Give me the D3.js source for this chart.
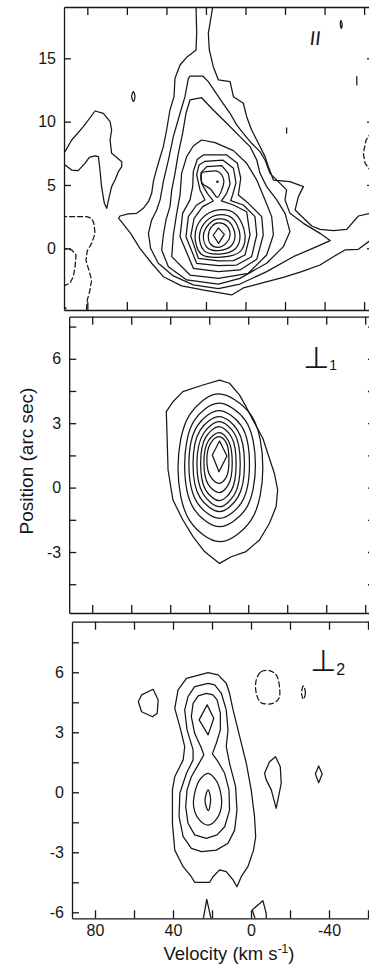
<!DOCTYPE html>
<html>
<head>
<meta charset="utf-8">
<script src="https://cdn.jsdelivr.net/npm/d3@7"></script>
<style>
  body { margin: 0; background: #fff; }
  svg { display: block; background: #fff; }
  .contour { fill: none; stroke: #161616; stroke-width: 1.25; stroke-linejoin: round; stroke-linecap: round; }
  .neg { stroke-dasharray: 5 3; }
  .axis path, .axis line { stroke: #161616; stroke-width: 1.3; }
  .axis text, .label { fill: #161616; font-family: "Liberation Sans", Arial, sans-serif; }
</style>
</head>
<body>
<div id="chart"></div>
<script>
// --- axis values ---
const velocityTicks = [80, 60, 40, 20, 0, -20, -40, -60];
const velocityLabels = [80, 40, 0, -40];
const parTicks = [0, 5, 10, 15];
const perp1Ticks = [-4.5, -3, -1.5, 0, 1.5, 3, 4.5, 6, 7.5];
const perp2Ticks = [-6, -4.5, -3, -1.5, 0, 1.5, 3, 4.5, 6, 7.5];
const perpLabels = [-6, -3, 0, 3, 6];

// --- parallel cut: contours as [velocity km/s, position arcsec] ---
const parL1 = [[25.0,19.9],[25.0,19.03],[24.7,16.97],[25.0,15.66],[29.75,15.08],[33.1,14.47],[35.65,13.42],[36.15,11.97],[38.2,10.92],[39.9,9.34],[41.55,8.03],[43.6,6.97],[45.3,6.05],[46.6,5.26],[47.45,4.34],[49.1,3.68],[51.7,3.16],[55.0,2.76],[59.3,2.71],[63.5,2.55],[64.15,2.37],[62.1,1.97],[58.1,1.18],[53.4,0.0],[47.45,-1.18],[41.55,-2.24],[32.3,-2.97],[19.6,-3.34],[7.0,-3.68],[1.1,-3.13],[-9.0,-2.71],[-19.15,-2.29],[-28.4,-1.84],[-37.7,-1.32],[-44.45,-0.66],[-50.35,-0.13],[-57.1,-0.08],[-63.0,0.61],[-66.4,0.61],[-66.4,2.76],[-63.0,2.76],[-57.1,2.55],[-51.2,1.5],[-44.45,1.39],[-37.7,1.5],[-33.5,1.76],[-25.1,3.03],[-26.75,4.08],[-29.3,4.87],[-22.5,5.26],[-14.1,5.39],[-11.6,6.45],[-9.9,7.24],[-6.5,8.29],[-3.1,9.34],[-0.6,10.39],[1.1,11.45],[6.1,11.97],[7.8,13.16],[13.7,13.29],[16.3,14.34],[18.3,15.66],[18.8,16.97],[16.6,19.03],[16.6,19.9]];
const parL2 = [[28.9,13.42],[28.06,13.6],[21.65,13.6],[18.8,13.16],[15.4,12.37],[12.0,11.58],[7.8,10.66],[4.45,9.74],[1.1,9.08],[-3.1,8.29],[-7.35,7.63],[-9.9,6.97],[-12.4,5.92],[-17.5,5.13],[-20.8,4.61],[-20.0,3.82],[-22.5,2.76],[-29.3,1.97],[-37.7,1.18],[-42.8,0.61],[-36.0,0.13],[-24.2,-0.66],[-10.7,-1.84],[2.8,-2.82],[13.7,-3.18],[26.4,-2.89],[36.5,-2.18],[44.1,-1.18],[48.0,0.0],[49.1,1.18],[47.45,2.24],[44.9,3.03],[43.2,3.82],[41.55,5.26],[39.0,6.97],[36.5,8.82],[33.1,10.66],[30.6,11.97]];
const parL3 = [[28.06,11.71],[22.2,11.89],[16.3,10.92],[9.5,9.87],[2.8,8.82],[-2.3,8.03],[-5.7,6.97],[-7.35,5.92],[-10.7,4.87],[-15.8,3.82],[-20.0,2.76],[-22.5,1.32],[-19.15,0.13],[-10.7,-1.18],[2.8,-2.37],[13.7,-2.82],[29.75,-2.5],[39.0,-1.45],[42.4,-0.13],[41.55,1.05],[40.2,2.24],[38.2,3.29],[37.3,4.61],[35.65,5.92],[33.96,7.5],[31.8,9.08],[30.1,10.66]];
const parL4 = [[22.2,8.55],[15.4,8.34],[6.1,7.71],[-0.6,6.71],[-5.7,5.39],[-9.9,3.82],[-13.25,2.5],[-14.1,1.05],[-10.7,-0.53],[-1.44,-1.97],[13.7,-2.37],[28.06,-2.11],[37.3,-0.66],[36.5,1.05],[34.8,2.76],[33.1,4.21],[32.3,5.92],[29.75,7.24],[26.4,8.08]];
const parL5 = [[21.3,7.37],[9.5,7.37],[4.1,6.71],[2.4,5.53],[3.6,4.21],[-1.44,3.55],[-8.2,2.5],[-9.0,1.05],[-5.7,-0.87],[2.8,-1.71],[13.7,-1.84],[26.4,-1.58],[33.1,0.92],[31.8,2.76],[28.06,3.82],[26.7,4.87],[26.4,6.05],[24.35,7.03]];
const parL6 = [[20.5,6.87],[11.5,6.97],[6.1,6.32],[4.8,5.18],[6.5,4.21],[7.5,3.76],[1.1,3.42],[-4.8,2.5],[-5.7,1.05],[-3.1,-0.66],[4.45,-1.32],[13.7,-1.37],[24.7,-1.18],[30.1,0.92],[28.9,2.5],[24.7,3.42],[20.5,3.82],[23.0,4.61],[24.7,5.79],[23.5,6.58]];
const parL7 = [[19.6,6.45],[12.0,6.53],[8.7,5.92],[7.8,5.08],[9.5,4.34],[12.2,3.74],[6.1,3.42],[-0.6,2.89],[-2.3,1.05],[0.24,-0.53],[6.1,-0.97],[13.7,-1.0],[23.85,-0.79],[27.7,0.97],[26.0,2.37],[21.65,3.29],[16.3,3.74],[19.3,4.34],[22.2,5.13],[22.5,5.97]];
const parL8up = [[22.2,5.92],[17.9,6.08],[13.7,6.05],[11.0,5.39],[11.9,4.66],[14.2,4.03],[17.6,4.66],[22.0,5.18]];
const parL8 = [[13.7,3.03],[5.1,2.71],[0.24,1.05],[2.8,-0.26],[13.7,-0.71],[22.5,-0.45],[25.5,0.97],[22.2,2.32]];
const parL9 = [[13.7,2.64],[6.65,2.37],[2.8,1.05],[5.1,-0.03],[13.7,-0.45],[21.0,-0.18],[23.3,0.97],[20.1,2.11]];
const parL10 = [[13.7,2.32],[8.2,2.08],[5.3,1.05],[7.3,0.18],[13.7,-0.18],[19.3,0.05],[21.3,0.97],[18.45,1.92]];
const parL11 = [[13.7,2.0],[9.5,1.76],[7.8,1.05],[9.5,0.45],[13.7,0.08],[17.6,0.32],[18.8,1.0],[17.1,1.71]];
const parL12 = [[13.7,1.61],[10.7,1.1],[13.6,0.39],[16.3,1.03]];
const parBlob = [[93.8,6.58],[93.8,7.76],[91.3,7.63],[87.9,8.55],[82.0,9.6],[76.1,10.84],[71.9,10.66],[68.5,10.0],[67.7,9.34],[68.5,8.55],[67.7,7.5],[66.0,7.29],[62.6,6.84],[62.6,6.45],[64.3,6.05],[66.0,5.39],[67.7,4.87],[68.9,4.08],[70.2,3.16],[71.4,3.55],[72.8,4.87],[73.6,6.18],[74.4,7.24],[76.1,7.29],[79.0,7.18],[81.2,6.71],[84.6,6.13],[87.9,6.18],[91.3,6.58]];
const parNeg1 = [[93.0,2.5],[80.3,2.5],[77.8,2.37],[76.6,1.92],[76.1,1.18],[77.8,0.39],[80.0,-0.18],[80.7,-0.92],[79.5,-1.58],[77.8,-2.5],[78.65,-3.29],[80.0,-4.08],[80.7,-5.2]];
const parNeg2 = [[93.0,0.0],[87.9,-0.13],[85.7,-0.53],[86.2,-1.45],[87.1,-2.24],[88.8,-2.76],[93.0,-3.03]];
const parNeg3 = [[92.5,-4.47],[89.8,-4.9]];
const parNeg4 = [[-63.8,9.21],[-61.0,8.55],[-59.6,7.5],[-60.5,6.71],[-63.0,6.18]];
const parSpeck1 = [[57.6,12.0],[56.7,12.37],[55.9,12.0],[56.7,11.58]];
const parSpeck2 = [[-20.8,9.5],[-20.8,9.1]];
const parSpeck3 = [[-56.3,13.55],[-56.3,12.9]];
const parSpeck4 = [[-48.3,17.97],[-48.9,17.67],[-48.5,17.37],[-48.0,17.67]];
const parPeakDot = [[14.2, 5.26]];

// --- perpendicular cut 1 ---
const p1R1 = [[14.7,5.01],[23.2,4.78],[33.5,4.47],[38.6,4.0],[42.0,3.54],[41.6,2.37],[41.1,0.82],[38.6,-0.58],[33.5,-1.51],[28.3,-2.28],[22.4,-2.98],[14.7,-3.53],[8.7,-3.22],[1.1,-2.98],[-5.8,-2.44],[-10.9,-1.66],[-14.3,-0.89],[-15.1,-0.11],[-13.4,0.67],[-10.0,1.6],[-7.5,2.3],[-2.4,3.15],[1.1,3.77],[4.5,4.32],[9.6,4.86]];
const p1R2 = [[15.5,4.36],[-1.3,3.4],[-7.5,0.93],[-1.3,-1.54],[14.7,-2.52],[30.0,-1.54],[36.0,0.93],[30.0,3.4]];
const p1R3 = [[15.2,3.93],[1.4,3.12],[-3.7,1.05],[1.4,-1.01],[14.7,-1.82],[27.7,-1.01],[32.6,1.05],[27.7,3.12]];
const p1R4 = [[15.0,3.59],[3.6,2.89],[-0.65,1.09],[3.6,-0.72],[14.7,-1.43],[26.0,-0.72],[30.4,1.09],[26.0,2.89]];
const p1R5 = [[14.9,3.31],[5.5,2.68],[1.9,1.1],[5.5,-0.48],[14.7,-1.12],[24.6,-0.48],[28.3,1.1],[24.6,2.68]];
const p1R6 = [[14.9,3.07],[7.0,2.51],[4.1,1.1],[7.0,-0.31],[14.7,-0.89],[23.0,-0.31],[26.3,1.1],[23.0,2.51]];
const p1R7 = [[14.9,2.84],[8.6,2.36],[6.2,1.12],[8.6,-0.13],[14.7,-0.61],[21.7,-0.13],[24.4,1.12],[21.7,2.36]];
const p1R8 = [[14.9,2.56],[10.1,2.17],[8.2,1.16],[10.1,0.15],[14.9,-0.23],[20.5,0.15],[22.7,1.16],[20.5,2.17]];
const p1R9 = [[14.9,2.37],[11.1,2.06],[9.9,1.29],[11.1,0.51],[14.9,0.2],[19.3,0.51],[21.2,1.29],[19.3,2.06]];
const p1R10 = [[14.7,2.17],[10.9,1.47],[15.0,0.74],[18.4,1.52]];

// --- perpendicular cut 2 ---
const p2L1 = [[22.0,5.98],[33.1,5.7],[37.4,5.12],[39.1,4.2],[36.5,3.28],[34.0,2.28],[34.8,1.62],[39.1,0.78],[40.3,0.12],[40.3,-1.55],[39.1,-2.89],[34.8,-3.72],[30.6,-4.22],[28.9,-4.5],[21.2,-4.5],[19.5,-4.22],[16.1,-3.88],[12.7,-3.97],[9.2,-4.38],[7.2,-4.72],[5.0,-4.22],[1.6,-3.72],[-1.3,-2.89],[-2.4,-2.22],[-1.8,-1.22],[-0.1,0.12],[2.4,1.45],[5.8,2.78],[9.2,4.12],[11.0,4.95],[12.7,5.45],[16.9,5.87]];
const p2L2 = [[22.0,5.45],[28.9,5.28],[32.3,4.78],[34.0,4.12],[32.8,3.12],[29.7,2.12],[29.7,1.62],[33.1,0.95],[36.5,-0.05],[36.9,-1.22],[34.8,-2.22],[30.6,-2.8],[25.4,-2.97],[17.8,-2.89],[11.8,-2.55],[8.4,-1.89],[7.2,-0.89],[7.9,0.28],[11.0,1.45],[12.7,2.28],[11.8,3.12],[12.7,4.12],[15.2,4.95],[18.6,5.37]];
const p2L3 = [[22.9,4.95],[27.1,4.82],[29.7,4.45],[30.6,3.78],[28.9,2.95],[25.4,2.2],[24.2,1.87],[27.1,1.37],[30.6,0.78],[32.8,0.12],[33.5,-0.72],[32.3,-1.55],[28.9,-2.13],[22.9,-2.3],[17.4,-2.13],[13.5,-1.72],[11.0,-0.89],[11.3,0.12],[13.5,0.95],[16.9,1.53],[19.8,1.92],[17.8,2.45],[15.7,3.12],[15.7,3.95],[17.4,4.62],[19.5,4.87]];
const p2L4up = [[22.5,4.37],[19.1,3.7],[22.0,2.87],[26.6,3.62]];
const p2L4 = [[22.0,0.95],[26.3,0.62],[28.9,-0.05],[29.4,-0.72],[27.1,-1.3],[22.0,-1.64],[17.4,-1.3],[15.2,-0.72],[15.7,0.03],[18.1,0.62]];
const p2L5 = [[22.0,0.12],[20.7,-0.35],[21.9,-0.92],[23.6,-0.42]];
const p2BlobL = [[57.8,4.53],[56.1,4.87],[50.2,5.15],[47.6,4.62],[48.1,3.95],[50.5,3.78],[56.1,4.03]];
const p2NegA = [[-2.7,5.62],[-5.2,6.03],[-9.5,6.08],[-12.9,5.87],[-14.6,5.28],[-14.3,4.7],[-11.2,4.45],[-5.2,4.48],[-2.7,4.95]];
const p2NegB = [[-26.9,5.32],[-27.9,4.98],[-26.9,4.65],[-25.9,4.98]];
const p2BlobR = [[-6.95,0.95],[-9.5,1.53],[-12.6,1.78],[-15.0,1.28],[-15.5,0.45],[-12.9,-0.8],[-10.4,0.12],[-7.8,0.62]];
const p2Dia = [[-34.7,1.32],[-36.5,0.92],[-34.7,0.48],[-33.0,0.92]];
const p2Foot1 = [[24.6,-6.4],[22.7,-5.35],[20.3,-6.4]];
const p2Foot2 = [[-2.35,-6.4],[-0.65,-5.88],[-6.1,-5.42],[-7.8,-6.05],[-7.8,-6.4]];

// --- panels ---
const panels = [
  { left: 64, top: 7, bottom: 310, k: 1.977, yDomain: [-4.87, 19.05], yTicks: parTicks, yLabels: parTicks, xLabels: false,
    contours: [
      { pts: parL1 }, { pts: parL2 }, { pts: parL3 }, { pts: parL4 }, { pts: parL5 }, { pts: parL6 }, { pts: parL7 },
      { pts: parL8up, smooth: true }, { pts: parL8, smooth: true }, { pts: parL9, smooth: true },
      { pts: parL10, smooth: true }, { pts: parL11, smooth: true }, { pts: parL12 },
      { pts: parBlob },
      { pts: parNeg1, neg: true, open: true }, { pts: parNeg2, neg: true, open: true },
      { pts: parNeg3, neg: true, open: true }, { pts: parNeg4, neg: true, open: true },
      { pts: parSpeck1, smooth: true }, { pts: parSpeck2, open: true }, { pts: parSpeck3, open: true },
      { pts: parSpeck4, smooth: true }
    ],
    dots: parPeakDot,
    tag: { text: "II", x: 309, y: 45 } },
  { left: 69.2, top: 316.7, bottom: 613, k: 1.95, yDomain: [-5.84, 7.96], yTicks: perp1Ticks, yLabels: perpLabels, xLabels: false,
    contours: [
      { pts: p1R1 }, { pts: p1R2, smooth: true }, { pts: p1R3, smooth: true }, { pts: p1R4, smooth: true },
      { pts: p1R5, smooth: true }, { pts: p1R6, smooth: true }, { pts: p1R7, smooth: true },
      { pts: p1R8, smooth: true }, { pts: p1R9, smooth: true }, { pts: p1R10 }
    ],
    dots: [],
    tag: { text: "\u22A5", sub: "1", x: 303, y: 368, subSize: 14, subDx: 0, subDy: 2 } },
  { left: 72, top: 621.7, bottom: 918.3, k: 1.95, yDomain: [-6.3, 8.53], yTicks: perp2Ticks, yLabels: perpLabels, xLabels: true,
    contours: [
      { pts: p2L1 }, { pts: p2L2 }, { pts: p2L3 }, { pts: p2L4up }, { pts: p2L4, smooth: true }, { pts: p2L5, smooth: true },
      { pts: p2BlobL }, { pts: p2NegA, neg: true, smooth: true }, { pts: p2NegB, neg: true, smooth: true },
      { pts: p2BlobR }, { pts: p2Dia },
      { pts: p2Foot1, open: true }, { pts: p2Foot2, open: true }
    ],
    dots: [],
    tag: { text: "\u22A5", sub: "2", x: 310, y: 671, subSize: 16, subDx: 0, subDy: 4 } }
];

const W = 369, H = 966;
const svg = d3.select("#chart").append("svg").attr("width", W).attr("height", H);
const fmt = d => d < 0 ? "-" + Math.abs(d) : String(d);
const FONT = '"Liberation Sans", Arial, sans-serif';

panels.forEach((p, i) => {
  const x = d3.scaleLinear().domain([91.8, -65]).range([p.left, p.left + 156.8 * p.k]);
  const y = d3.scaleLinear().domain(p.yDomain).range([p.bottom, p.top]);
  const right = x.range()[1];

  svg.append("clipPath").attr("id", "clip" + i)
    .append("rect").attr("x", p.left).attr("y", p.top)
    .attr("width", right - p.left).attr("height", p.bottom - p.top);

  const plot = svg.append("g").attr("clip-path", `url(#clip${i})`);
  const line = d3.line().x(d => x(d[0])).y(d => y(d[1]));

  plot.selectAll("path.contour")
    .data(p.contours)
    .enter().append("path")
    .attr("class", d => "contour" + (d.neg ? " neg" : ""))
    .attr("d", d => line.curve(d.open ? d3.curveLinear
      : d.smooth ? d3.curveCatmullRomClosed.alpha(0.5) : d3.curveLinearClosed)(d.pts));

  plot.selectAll("circle.peak")
    .data(p.dots)
    .enter().append("circle")
    .attr("class", "peak")
    .attr("cx", d => x(d[0])).attr("cy", d => y(d[1])).attr("r", 1.3)
    .attr("fill", "#161616");

  // frame + inward ticks
  svg.append("g").attr("class", "axis").attr("transform", `translate(0,${p.bottom})`)
    .call(d3.axisBottom(x).tickValues(velocityTicks).tickSize(-8).tickSizeOuter(0).tickPadding(6)
      .tickFormat(d => p.xLabels && velocityLabels.includes(d) ? fmt(d) : ""))
    .attr("font-size", 16).attr("font-family", FONT);

  svg.append("g").attr("class", "axis").attr("transform", `translate(0,${p.top})`)
    .call(d3.axisTop(x).tickValues(velocityTicks).tickSize(-8).tickSizeOuter(0).tickFormat(""));

  svg.append("g").attr("class", "axis").attr("transform", `translate(${p.left},0)`)
    .call(d3.axisLeft(y).tickValues(p.yTicks).tickSize(-7).tickSizeOuter(0).tickPadding(8)
      .tickFormat(d => p.yLabels.includes(d) ? fmt(d) : ""))
    .attr("font-size", 16).attr("font-family", FONT);

  svg.append("g").attr("class", "axis").attr("transform", `translate(${right},0)`)
    .call(d3.axisRight(y).tickValues(p.yTicks).tickSize(-7).tickSizeOuter(0).tickFormat(""));

  // panel tag
  const t = svg.append("text").attr("class", "label")
    .attr("transform", `translate(${p.tag.x},${p.tag.y})` + (p.tag.sub ? "" : " skewX(-7)"));
  if (p.tag.sub) {
    t.style("font-family", '"DejaVu Sans", sans-serif').attr("font-size", 30).text(p.tag.text);
    t.append("tspan").attr("font-size", p.tag.subSize)
      .attr("dx", p.tag.subDx).attr("dy", p.tag.subDy)
      .style("font-family", FONT).text(p.tag.sub);
  } else {
    t.attr("font-size", 20).text(p.tag.text);
  }
});

// axis titles
svg.append("text").attr("class", "label")
  .attr("transform", "translate(33,461) rotate(-90)")
  .attr("text-anchor", "middle").attr("font-size", 19)
  .text("Position (arc sec)");

const vt = svg.append("text").attr("class", "label")
  .attr("x", 229).attr("y", 960).attr("text-anchor", "middle").attr("font-size", 18.5);
vt.append("tspan").text("Velocity (km s");
vt.append("tspan").attr("font-size", 12).attr("dy", -7).text("-1");
vt.append("tspan").attr("dy", 7).text(")");
</script>
</body>
</html>
